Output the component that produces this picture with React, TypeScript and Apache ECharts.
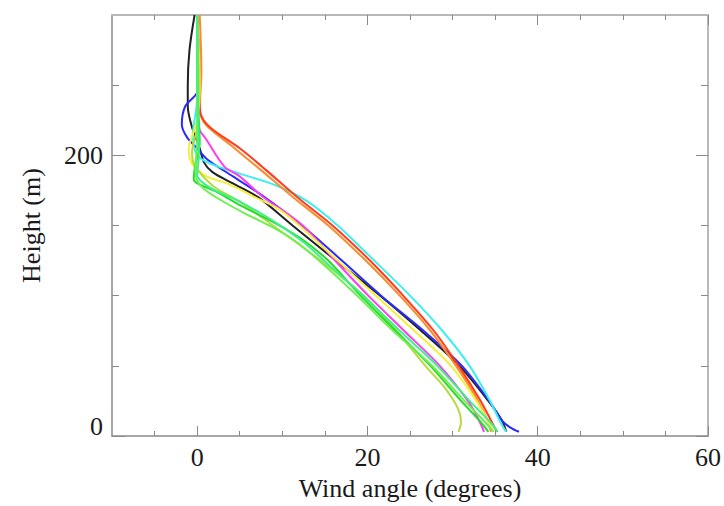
import React, { useEffect, useRef } from "react";
import * as echarts from "echarts";

// Wind angle (degrees) vs Height (m) profiles: [angle, height]
const blackProfile: [number, number][] = [
  [-0.3, 300], [-0.9, 275], [-1.1, 250], [-1.1, 235], [-0.6, 220], [0.3, 205], [0.8, 195],
  [1.8, 188], [4.2, 180], [7.2, 170], [11.2, 150], [16.3, 125], [21.5, 100], [26.3, 75],
  [30.8, 50], [34.2, 25], [35.8, 11], [36.3, 3],
];
const blueProfile: [number, number][] = [
  [0, 300], [0.2, 260], [0, 245], [-1.4, 235], [-1.8, 222], [-1.2, 213], [0, 205], [1.2, 197],
  [4.2, 185], [7.5, 172], [12.3, 150], [17, 125], [21.6, 100], [26.6, 75], [31.1, 50],
  [34.3, 25], [35.8, 11], [36.8, 6], [37.8, 3],
];
const redProfile: [number, number][] = [
  [0, 300], [0.2, 250], [0.4, 230], [1.5, 220], [5, 205], [8, 190], [11.8, 170], [15.9, 150],
  [20.3, 125], [24.2, 100], [27.8, 75], [30.7, 50], [33.3, 25], [34.6, 10], [35.2, 3],
];
const orangeProfile: [number, number][] = [
  [0.3, 300], [0.5, 260], [0.3, 232], [1, 222], [4, 207], [7.4, 190], [11.3, 170], [15.4, 150],
  [19.8, 125], [23.8, 100], [27.4, 75], [30.4, 50], [33, 25], [34.2, 10], [34.5, 3],
];
const magentaProfile: [number, number][] = [
  [0, 300], [0.3, 260], [0, 230], [0.3, 218], [1, 212], [3.2, 192], [5, 185], [7.6, 171],
  [12.4, 150], [16.2, 125], [20.1, 100], [24.3, 75], [28.5, 50], [31.8, 25], [33.2, 10], [33.7, 3],
];
const cyanProfile: [number, number][] = [
  [0, 300], [0, 240], [-0.5, 215], [0, 200], [2, 193], [5, 187], [9.5, 178], [13, 167],
  [16.5, 150], [20.8, 125], [25, 100], [28.8, 75], [32, 50], [34.4, 25], [35.6, 10], [36.3, 3],
];
const yellowProfile: [number, number][] = [
  [0, 300], [0.3, 250], [0, 225], [-0.8, 210], [-1, 204], [-0.5, 193], [1.1, 185], [3.5, 180],
  [6.5, 171], [9.5, 162], [12, 150], [16.5, 125], [21, 100], [25.5, 75], [29.8, 50],
  [32.8, 25], [34.2, 10], [34.8, 3],
];
const yellowGreenProfile: [number, number][] = [
  [0, 300], [0.2, 250], [0, 220], [-0.6, 202], [-0.3, 193], [1.9, 178], [5, 167], [8.9, 150],
  [14.5, 125], [19.6, 100], [23.4, 75], [26.8, 50], [29, 35], [30.6, 20], [31, 10], [30.7, 3],
];
const greenProfile: [number, number][] = [
  [0, 300], [0, 250], [0.3, 209], [-0.3, 190], [-0.4, 183], [2.3, 174], [5.2, 164], [8.1, 155],
  [10.4, 147.5], [12.6, 139], [15.4, 125], [19.2, 100], [23.3, 75], [27.4, 50], [31, 25],
  [33.3, 10], [34.2, 3],
];
const limeProfile: [number, number][] = [
  [0, 300], [0, 240], [0, 210], [-0.2, 190], [0, 182], [0.8, 176], [2.8, 168], [5.8, 158],
  [8.8, 149], [11.5, 139], [14.7, 123], [18.8, 100], [23, 75], [27.6, 50], [31.4, 25],
  [33.8, 10], [34.8, 3],
];
const springProfile: [number, number][] = [
  [0, 300], [0.1, 240], [0.2, 200], [0, 186], [1.5, 177], [5, 167], [9, 153], [12.5, 138],
  [15.8, 120], [19.5, 100], [23.8, 75], [28.2, 50], [32, 25], [34.4, 10], [35.3, 3],
];

const profiles = [
  { name: "black", color: "#222222", data: blackProfile },
  { name: "blue", color: "#2a2aff", data: blueProfile },
  { name: "cyan", color: "#3cf0f0", data: cyanProfile },
  { name: "magenta", color: "#ff3cf0", data: magentaProfile },
  { name: "orange", color: "#ff8a28", data: orangeProfile },
  { name: "red", color: "#ff3c1e", data: redProfile },
  { name: "yellow", color: "#f2f03c", data: yellowProfile },
  { name: "yellowgreen", color: "#b4dc3c", data: yellowGreenProfile },
  { name: "green", color: "#28dc28", data: greenProfile },
  { name: "lime", color: "#6cf050", data: limeProfile },
  { name: "spring", color: "#3cf08c", data: springProfile },
];

const xMajorTicks = [0, 20, 40, 60];
const xMinorTicks = [-5, 5, 10, 15, 25, 30, 35, 45, 50, 55];
const yMajorTicks = [0, 200];
const yMinorTicks = [50, 100, 150, 250];

const FONT = "'Liberation Serif', 'DejaVu Serif', serif";

export default function App() {
  const ref = useRef<HTMLDivElement>(null);
  useEffect(() => {
    if (!ref.current) return;
    const chart = echarts.init(ref.current, undefined, { renderer: "svg" });
    const lineDark = { show: true, onZero: false, lineStyle: { color: "#8a8a8a", width: 1.5 } };
    const lineLight = { show: true, onZero: false, lineStyle: { color: "#b8b8b8", width: 2 } };
    const noLine = { show: false, onZero: false };
    const tickStyle = { color: "#8a8a8a", width: 1 };
    const xBase = { type: "value" as const, min: -10, max: 60, splitLine: { show: false } };
    const yBase = { type: "value" as const, min: 0, max: 300, splitLine: { show: false } };
    chart.setOption({
      animation: false,
      grid: { left: 112, right: 15, top: 15, bottom: 67 },
      xAxis: [
        {
          ...xBase,
          position: "bottom",
          axisLine: lineDark,
          axisTick: { inside: true, length: 10, customValues: xMajorTicks, lineStyle: tickStyle },
          axisLabel: { customValues: xMajorTicks, fontSize: 26, fontFamily: FONT, color: "#1a1a1a", margin: 8 },
          name: "Wind angle (degrees)",
          nameLocation: "middle",
          nameGap: 39,
          nameTextStyle: { fontSize: 26, fontFamily: FONT, color: "#1a1a1a" },
        },
        {
          ...xBase,
          position: "bottom",
          axisLine: noLine,
          axisTick: { inside: true, length: 5, customValues: xMinorTicks, lineStyle: tickStyle },
          axisLabel: { show: false },
        },
        {
          ...xBase,
          position: "top",
          axisLine: lineLight,
          axisTick: { inside: true, length: 10, customValues: xMajorTicks, lineStyle: tickStyle },
          axisLabel: { show: false },
        },
        {
          ...xBase,
          position: "top",
          axisLine: noLine,
          axisTick: { inside: true, length: 5, customValues: xMinorTicks, lineStyle: tickStyle },
          axisLabel: { show: false },
        },
      ],
      yAxis: [
        {
          ...yBase,
          position: "left",
          axisLine: lineDark,
          axisTick: { inside: true, length: 13, customValues: yMajorTicks, lineStyle: tickStyle },
          axisLabel: {
            customValues: yMajorTicks,
            margin: 9,
            formatter: (v: number) => (v === 0 ? "{lo|0}" : "{n|" + v + "}"),
            rich: {
              lo: { fontSize: 26, fontFamily: FONT, color: "#1a1a1a", padding: [0, 0, 20, 0] },
              n: { fontSize: 26, fontFamily: FONT, color: "#1a1a1a" },
            },
          },
          name: "Height (m)",
          nameLocation: "middle",
          nameGap: 68,
          nameTextStyle: { fontSize: 26, fontFamily: FONT, color: "#1a1a1a" },
        },
        {
          ...yBase,
          position: "left",
          axisLine: noLine,
          axisTick: { inside: true, length: 7, customValues: yMinorTicks, lineStyle: tickStyle },
          axisLabel: { show: false },
        },
        {
          ...yBase,
          position: "right",
          axisLine: lineLight,
          axisTick: { inside: true, length: 12, customValues: yMajorTicks, lineStyle: tickStyle },
          axisLabel: { show: false },
        },
        {
          ...yBase,
          position: "right",
          axisLine: noLine,
          axisTick: { inside: true, length: 7, customValues: yMinorTicks, lineStyle: tickStyle },
          axisLabel: { show: false },
        },
      ],
      series: profiles.map((p) => ({
        name: p.name,
        type: "line",
        xAxisIndex: 0,
        yAxisIndex: 0,
        data: p.data,
        showSymbol: false,
        smooth: 0.3,
        lineStyle: { color: p.color, width: 2 },
        itemStyle: { color: p.color },
      })),
    });
    return () => chart.dispose();
  }, []);
  return <div ref={ref} style={{ width: 724, height: 506, position: "absolute", left: 0, top: 0 }} />;
}
